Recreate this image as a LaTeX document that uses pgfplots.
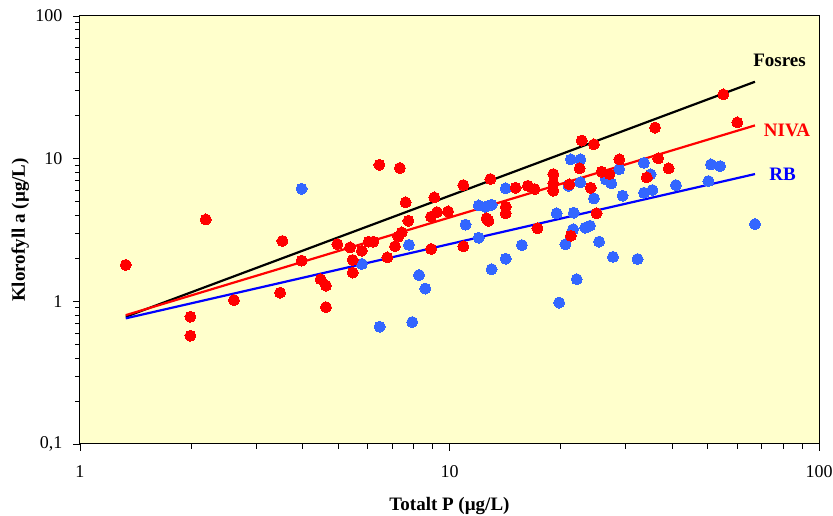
\documentclass[border=0pt]{standalone}
\usepackage{fontspec}
\setmainfont{Liberation Serif}
\usepackage{pgfplots}
\pgfplotsset{compat=1.18}
\definecolor{bgyellow}{RGB}{255,255,204}
\definecolor{dotred}{RGB}{255,0,0}
\definecolor{dotblue}{RGB}{51,102,255}
\definecolor{lineblue}{RGB}{0,0,255}
\begin{document}
\begin{tikzpicture}
\useasboundingbox (-80pt,-72pt) rectangle (753pt,444pt);
\begin{axis}[
  at={(0,0)}, anchor=south west,
  scale only axis, width=739pt, height=428pt,
  xmode=log, ymode=log,
  xmin=1, xmax=100, ymin=0.1, ymax=100,
  axis background/.style={fill=bgyellow},
  axis line style={black, line width=1pt},
  xtick={1,10,100}, xticklabels={1,10,100},
  ytick={0.1,1,10,100}, yticklabels={{0,1},1,10,100},
  minor xtick={2,3,4,5,6,7,8,9,20,30,40,50,60,70,80,90},
  minor ytick={0.2,0.3,0.4,0.5,0.6,0.7,0.8,0.9,2,3,4,5,6,7,8,9,20,30,40,50,60,70,80,90},
  xtick pos=left, ytick pos=left,
  tick align=outside,
  major tick length=7pt, minor tick length=5pt,
  tick style={black, line width=0.8pt},
  /pgf/number format/assume math mode=true,
  ticklabel style={font=\fontsize{18}{20}\selectfont},
  xticklabel style={yshift=-11pt},
  yticklabel style={xshift=-7pt},
  xlabel={Totalt P (µg/L)},
  ylabel={Klorofyll a (µg/L)},
  xlabel style={at={(rel axis cs:0.5,0)}, anchor=base, yshift=-67pt, font=\fontsize{19}{21}\selectfont\bfseries},
  ylabel style={at={(rel axis cs:0,0.5)}, anchor=base, yshift=55pt, font=\fontsize{19}{21}\selectfont\bfseries},
  clip=false,
]
% regression lines
\addplot[black, line width=2.2pt] coordinates {(1.33,0.78) (67.1,34.6)};
\addplot[dotred, line width=2.2pt] coordinates {(1.33,0.80) (67.1,17.1)};
\addplot[lineblue, line width=2.2pt] coordinates {(1.33,0.76) (67.1,7.8)};
% RB data
\addplot[dotblue, only marks, mark=*, mark size=5.5pt, mark options={solid, draw=dotblue, fill=dotblue, line width=0pt}] coordinates {
(3.98,6.15) (5.79,1.83) (6.47,0.664) (7.77,2.49) (7.93,0.716) (8.27,1.53) (8.60,1.23)
(11.05,3.45) (12.0,4.7) (12.5,4.6) (13.0,4.75) (12.0,2.79) (13.0,1.68) (14.2,6.2)
(14.2,1.99) (15.7,2.48) (19.5,4.14) (19.8,0.98) (20.6,2.51) (21.0,6.46) (21.3,9.89)
(22.6,9.89) (21.6,3.2) (21.7,4.18) (22.1,1.43) (22.6,6.82) (23.3,3.28) (24.0,3.39)
(24.6,5.27) (25.4,2.62) (26.5,7.16) (27.4,6.71) (27.7,2.05) (28.8,8.45) (29.4,5.5)
(32.3,1.98) (33.6,9.36) (33.6,5.77) (35.0,7.76) (35.4,6.03) (41.0,6.53) (50.2,6.97)
(51.0,9.12) (54.0,8.87) (67.1,3.48)
};
% NIVA data
\addplot[dotred, only marks, mark=*, mark size=5.5pt, mark options={solid, draw=dotred, fill=dotred, line width=0pt}] coordinates {
(1.33,1.80) (1.99,0.78) (1.99,0.574) (2.19,3.75) (2.61,1.02) (3.48,1.15) (3.53,2.65)
(3.98,1.93) (4.48,1.43) (4.63,1.29) (4.63,0.91) (4.97,2.52) (5.38,2.39) (5.47,1.95)
(5.47,1.59) (5.79,2.26) (6.04,2.62) (6.22,2.62) (6.46,9.06) (6.79,2.03) (7.12,2.43)
(7.27,2.84) (7.34,8.60) (7.42,3.04) (7.61,4.94) (7.74,3.67) (8.92,2.33) (8.91,3.92)
(9.10,5.35) (9.25,4.22) (9.91,4.27) (10.9,6.53) (10.9,2.43) (12.6,3.82) (12.75,3.67)
(12.9,7.2) (14.2,4.6) (14.2,4.14) (15.1,6.25) (16.3,6.46) (17.0,6.12) (17.3,3.25)
(19.1,7.80) (19.1,6.71) (19.1,5.96) (21.1,6.6) (21.3,2.88) (22.5,8.55) (22.8,13.4)
(24.1,6.25) (24.6,12.6) (25.0,4.14) (25.8,8.09) (27.1,7.80) (28.8,9.89) (34.2,7.39)
(36.0,16.5) (36.7,10.05) (39.2,8.55) (55.1,28.2) (60.1,17.96)
};
\node[anchor=base, font=\fontsize{19}{21}\selectfont\bfseries, text=black] at (rel axis cs:0.9466,0.883) {Fosres};
\node[anchor=base, font=\fontsize{19}{21}\selectfont\bfseries, text=dotred] at (rel axis cs:0.9567,0.7196) {NIVA};
\node[anchor=base, font=\fontsize{19}{21}\selectfont\bfseries, text=lineblue] at (rel axis cs:0.9506,0.6168) {RB};
\end{axis}
\end{tikzpicture}
\end{document}
